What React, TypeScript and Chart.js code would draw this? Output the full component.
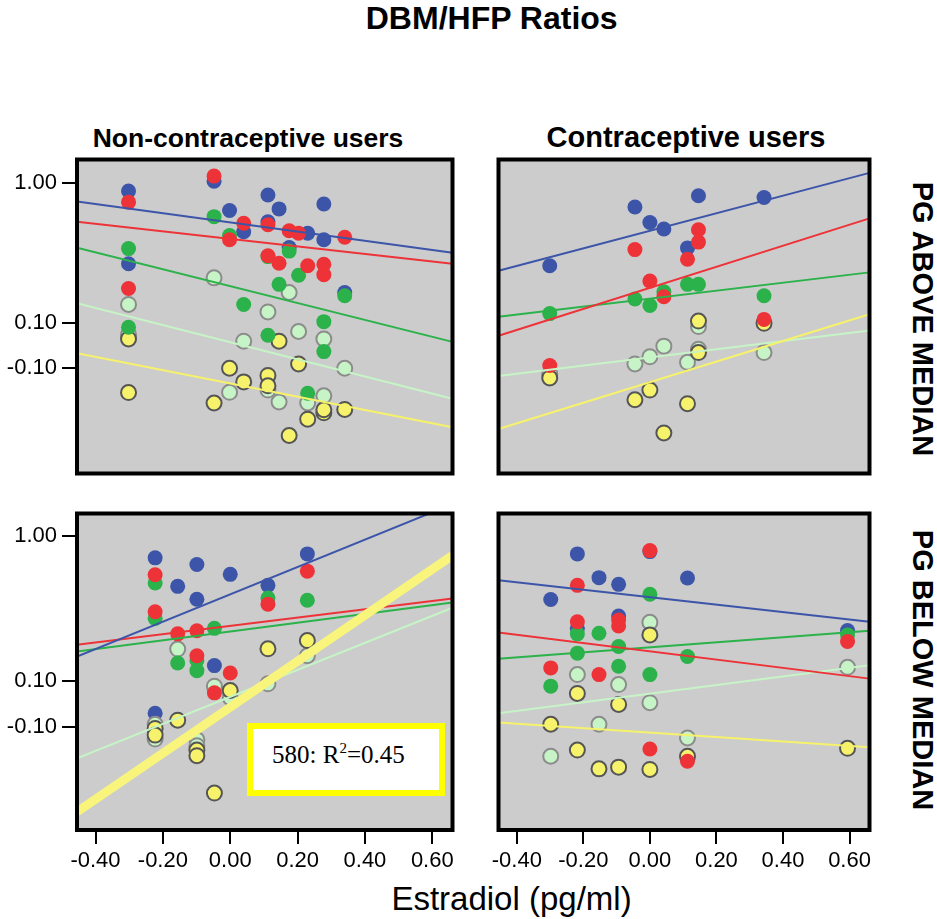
import React, { useEffect, useRef } from "react";
import { Chart, registerables } from "chart.js";
Chart.register(...registerables);

// ---------- axes ----------
const X_MIN = -0.455;
const X_MAX = 0.66;
const xTickValues = [-0.4, -0.2, 0, 0.2, 0.4, 0.6];
const xTickLabels = ["-0.40", "-0.20", "0.00", "0.20", "0.40", "0.60"];
const yTickValues = [-1.32, -1, 0];
const yTickLabels = ["-0.10", "0.10", "1.00"];
const topRowYRange = [-2.067, 0.164];
const bottomRowYRange = [-2.032, 0.153];

type P = [number, number];

// ---------- Non-contraceptive, PG above median ----------
const tlBlue: P[] = [[-0.302, -0.06], [-0.302, -0.577], [-0.048, 0.009], [-0.002, -0.198], [0.04, -0.349], [0.112, -0.088], [0.112, -0.279], [0.145, -0.187], [0.175, -0.462], [0.23, -0.36], [0.278, -0.152], [0.278, -0.406], [0.34, -0.781]];
const tlRed: P[] = [[-0.302, -0.139], [-0.302, -0.753], [-0.048, 0.046], [-0.002, -0.406], [0.04, -0.289], [0.112, -0.3], [0.112, -0.52], [0.145, -0.573], [0.175, -0.342], [0.203, -0.36], [0.23, -0.591], [0.278, -0.58], [0.278, -0.654], [0.34, -0.388]];
const tlGreen: P[] = [[-0.302, -0.469], [-0.302, -1.028], [-0.048, -0.242], [-0.002, -0.376], [0.04, -0.866], [0.112, -0.526], [0.112, -1.085], [0.145, -0.723], [0.175, -0.487], [0.203, -0.658], [0.23, -1.497], [0.278, -0.988], [0.278, -1.201], [0.34, -0.804]];
const tlLight: P[] = [[-0.302, -0.866], [-0.302, -1.08], [-0.048, -0.677], [-0.002, -1.49], [0.04, -1.127], [0.112, -0.919], [0.112, -1.474], [0.145, -1.559], [0.175, -0.781], [0.203, -1.058], [0.23, -1.566], [0.278, -1.111], [0.278, -1.515], [0.34, -1.319]];
const tlYellow: P[] = [[-0.302, -1.111], [-0.302, -1.492], [-0.048, -1.566], [-0.002, -1.319], [0.04, -1.416], [0.112, -1.37], [0.112, -1.444], [0.145, -1.127], [0.175, -1.797], [0.203, -1.289], [0.23, -1.681], [0.278, -1.636], [0.278, -1.614], [0.34, -1.612]];
// fit lines: y at X_MIN and X_MAX
const tlFitBlue = [-0.134, -0.499];
const tlFitRed = [-0.279, -0.577];
const tlFitGreen = [-0.462, -1.132];
const tlFitLight = [-0.857, -1.536];
const tlFitYellow = [-1.212, -1.739];

// ---------- Contraceptive, PG above median ----------
const trBlue: P[] = [[-0.301, -0.591], [-0.045, -0.173], [0.0, -0.284], [0.042, -0.33], [0.113, -0.464], [0.146, -0.094], [0.343, -0.106]];
const trRed: P[] = [[-0.301, -1.3], [-0.045, -0.476], [0.0, -0.7], [0.042, -0.811], [0.113, -0.545], [0.146, -0.335], [0.146, -0.423], [0.343, -0.972]];
const trGreen: P[] = [[-0.301, -0.931], [-0.045, -0.827], [0.0, -0.873], [0.042, -0.776], [0.113, -0.723], [0.146, -0.723], [0.343, -0.804]];
const trLight: P[] = [[-0.301, -1.36], [-0.045, -1.289], [0.0, -1.238], [0.042, -1.162], [0.113, -1.277], [0.146, -1.023], [0.146, -1.185], [0.343, -1.208]];
const trYellow: P[] = [[-0.301, -1.388], [-0.045, -1.543], [0.0, -1.474], [0.042, -1.779], [0.113, -1.571], [0.146, -0.984], [0.146, -1.208], [0.343, -1.0]];
const trFitBlue = [-0.626, 0.069];
const trFitRed = [-1.088, -0.254];
const trFitGreen = [-0.954, -0.638];
const trFitLight = [-1.374, -1.051];
const trFitYellow = [-1.751, -0.935];

// ---------- Non-contraceptive, PG below median ----------
const blBlue: P[] = [[-0.223, -0.153], [-0.223, -1.226], [-0.156, -0.35], [-0.099, -0.199], [-0.099, -0.439], [-0.047, -0.897], [0.0, -0.267], [0.112, -0.343], [0.229, -0.126]];
const blRed: P[] = [[-0.223, -0.27], [-0.223, -0.525], [-0.156, -0.678], [-0.099, -0.656], [-0.099, -0.829], [-0.047, -1.085], [0.0, -0.948], [0.112, -0.473], [0.229, -0.245]];
const blGreen: P[] = [[-0.223, -0.327], [-0.223, -0.571], [-0.156, -0.879], [-0.099, -0.861], [-0.099, -0.932], [-0.047, -0.64], [0.112, -0.43], [0.229, -0.446]];
const blLight: P[] = [[-0.223, -1.302], [-0.223, -1.404], [-0.156, -0.783], [-0.099, -1.409], [-0.099, -1.45], [-0.047, -1.039], [0.0, -1.119], [0.112, -1.023], [0.229, -0.829]];
const blYellow: P[] = [[-0.223, -1.331], [-0.223, -1.377], [-0.156, -1.274], [-0.099, -1.48], [-0.099, -1.519], [-0.047, -1.777], [0.0, -1.069], [0.112, -0.781], [0.229, -0.724]];
const blFitBlue = [-0.834, 0.218];
const blFitRed = [-0.754, -0.434];
const blFitGreen = [-0.799, -0.461];
const blFitLight = [-1.537, -0.498];
const blFitYellow = [-1.907, -0.137];
const blAnnotation = "580: R";
const blAnnotationSup = "2";
const blAnnotationTail = "=0.45";

// ---------- Contraceptive, PG below median ----------
const brBlue: P[] = [[-0.298, -0.441], [-0.218, -0.126], [-0.218, -0.64], [-0.153, -0.29], [-0.094, -0.336], [-0.094, -0.555], [0.0, -0.11], [0.0, -0.68], [0.113, -0.292], [0.594, -0.655]];
const brRed: P[] = [[-0.298, -0.913], [-0.218, -0.343], [-0.218, -0.594], [-0.153, -0.959], [-0.094, -0.582], [-0.094, -0.624], [0.0, -0.103], [0.0, -1.473], [0.113, -1.557], [0.594, -0.731]];
const brGreen: P[] = [[-0.298, -1.039], [-0.218, -0.678], [-0.218, -0.811], [-0.153, -0.674], [-0.094, -0.765], [-0.094, -0.902], [0.0, -0.404], [0.0, -0.959], [0.113, -0.834], [0.594, -0.685]];
const brLight: P[] = [[-0.298, -1.523], [-0.218, -0.959], [-0.153, -1.302], [-0.094, -1.028], [0.0, -0.598], [0.0, -1.153], [0.113, -1.397], [0.594, -0.909]];
const brYellow: P[] = [[-0.298, -1.302], [-0.218, -1.089], [-0.218, -1.48], [-0.153, -1.61], [-0.094, -1.165], [-0.094, -1.598], [0.0, -0.685], [0.0, -1.614], [0.113, -1.523], [0.594, -1.468]];
const brFitBlue = [-0.308, -0.594];
const brFitRed = [-0.669, -0.987];
const brFitGreen = [-0.85, -0.656];
const brFitLight = [-1.226, -0.895];
const brFitYellow = [-1.29, -1.461];

// ---------- text ----------
const chartTitle = "DBM/HFP Ratios";
const colTitles = ["Non-contraceptive users", "Contraceptive users"];
const rowTitles = ["PG ABOVE MEDIAN", "PG BELOW MEDIAN"];
const xAxisTitle = "Estradiol (pg/ml)";

// ---------- styles ----------
const BLUE = "#3c55a9";
const RED = "#ee3338";
const GREEN = "#2bb24a";
const LIGHT = "#c6f4c6";
const YELLOW = "#f7f26b";
const PLOT_BG = "#cccccc";
const SANS = "'Liberation Sans', Arial, Helvetica, sans-serif";
const TICK_SIZE = 22;

type Series = { blue: P[]; red: P[]; green: P[]; light: P[]; yellow: P[] };
type Fits = { blue: number[]; red: number[]; green: number[]; light: number[]; yellow: number[] };

const framePlugin = {
  id: "frame",
  beforeDatasetsDraw(chart: any) {
    const { ctx, chartArea: a } = chart;
    ctx.save();
    ctx.fillStyle = PLOT_BG;
    ctx.fillRect(a.left, a.top, a.right - a.left, a.bottom - a.top);
    ctx.restore();
  },
  afterDatasetsDraw(chart: any) {
    const { ctx, chartArea: a } = chart;
    ctx.save();
    ctx.strokeStyle = "#000";
    ctx.lineWidth = 4;
    ctx.strokeRect(a.left, a.top, a.right - a.left, a.bottom - a.top);
    ctx.restore();
  },
};

function pts(arr: P[]) {
  return arr.map(([x, y]) => ({ x, y }));
}
function fitLine(f: number[]) {
  return [
    { x: X_MIN, y: f[0] },
    { x: X_MAX, y: f[1] },
  ];
}

function Panel(props: {
  left: number; top: number; width: number; height: number;
  pad: { top: number; right: number; bottom: number; left: number };
  yRange: number[]; showX: boolean; showY: boolean;
  series: Series; fits: Fits; thickYellow?: boolean;
}) {
  const ref = useRef<HTMLCanvasElement>(null);
  useEffect(() => {
    const { series, fits } = props;
    const lineDs = (f: number[], color: string, w: number) => ({
      type: "line" as const,
      data: fitLine(f),
      borderColor: color,
      borderWidth: w,
      pointRadius: 0,
      showLine: true,
      fill: false,
      clip: 0,
    });
    const ptDs = (d: P[], fill: string, border: string, bw: number) => ({
      data: pts(d),
      backgroundColor: fill,
      borderColor: border,
      pointBackgroundColor: fill,
      pointBorderColor: border,
      pointBorderWidth: bw,
      pointRadius: 7.5,
      showLine: false,
    });
    const datasets: any[] = [
      lineDs(fits.yellow, props.thickYellow ? "#f8f47c" : YELLOW, props.thickYellow ? 9 : 2),
      lineDs(fits.blue, BLUE, 2),
      lineDs(fits.red, RED, 2),
      lineDs(fits.green, GREEN, 2),
      lineDs(fits.light, LIGHT, 2),
      ptDs(series.red, RED, RED, 0),
      ptDs(series.green, GREEN, GREEN, 0),
      ptDs(series.yellow, YELLOW, "#555555", 2),
      ptDs(series.light, LIGHT, "#8c8c8c", 2),
      ptDs(series.blue, BLUE, BLUE, 0),
    ];
    const showX = props.showX;
    const showY = props.showY;
    const chart = new Chart(ref.current as HTMLCanvasElement, {
      type: "scatter",
      data: { datasets },
      options: {
        animation: false,
        responsive: false,
        maintainAspectRatio: false,
        layout: { padding: props.pad },
        plugins: { legend: { display: false }, tooltip: { enabled: false } },
        scales: {
          x: {
            type: "linear",
            min: X_MIN,
            max: X_MAX,
            display: showX,
            afterBuildTicks: (s: any) => {
              s.ticks = xTickValues.map((v) => ({ value: v }));
            },
            afterFit: (s: any) => {
              s.height = showX ? 45 : 0;
              s.paddingLeft = 0;
              s.paddingRight = 0;
              s.paddingTop = 0;
              s.paddingBottom = 0;
            },
            ticks: {
              autoSkip: false,
              maxRotation: 0,
              padding: 4,
              color: "#000",
              font: { family: SANS, size: TICK_SIZE },
              callback: (v: any) => {
                const i = xTickValues.findIndex((t) => Math.abs(t - Number(v)) < 1e-6);
                return i >= 0 ? xTickLabels[i] : "";
              },
            },
            grid: { display: true, drawOnChartArea: false, drawTicks: true, tickLength: 14, color: "#000", lineWidth: 2 },
            border: { display: false },
          },
          y: {
            type: "linear",
            min: props.yRange[0],
            max: props.yRange[1],
            display: showY,
            afterBuildTicks: (s: any) => {
              s.ticks = yTickValues.map((v) => ({ value: v }));
            },
            afterFit: (s: any) => {
              s.width = showY ? 77 : 0;
              s.paddingLeft = 0;
              s.paddingRight = 0;
              s.paddingTop = 0;
              s.paddingBottom = 0;
            },
            ticks: {
              autoSkip: false,
              padding: 5,
              color: "#000",
              font: { family: SANS, size: TICK_SIZE },
              callback: (v: any) => {
                const i = yTickValues.findIndex((t) => Math.abs(t - Number(v)) < 1e-6);
                return i >= 0 ? yTickLabels[i] : "";
              },
            },
            grid: { display: true, drawOnChartArea: false, drawTicks: true, tickLength: 15, color: "#000", lineWidth: 2 },
            border: { display: false },
          },
        },
      } as any,
      plugins: [framePlugin],
    });
    return () => chart.destroy();
  }, []);
  return (
    <canvas
      ref={ref}
      width={props.width}
      height={props.height}
      style={{ position: "absolute", left: props.left, top: props.top, width: props.width, height: props.height }}
    />
  );
}

function Label(props: { text: React.ReactNode; cx: number; baseline: number; size: number; bold?: boolean }) {
  const top = props.baseline - 0.8465 * props.size;
  return (
    <div
      style={{
        position: "absolute",
        left: props.cx,
        top,
        transform: "translateX(-50%)",
        whiteSpace: "nowrap",
        fontFamily: SANS,
        fontSize: props.size,
        lineHeight: `${props.size}px`,
        fontWeight: props.bold ? "bold" : "normal",
        color: "#000",
      }}
    >
      {props.text}
    </div>
  );
}

function RowLabel(props: { text: string; cx: number; cy: number }) {
  return (
    <div
      style={{
        position: "absolute",
        left: props.cx,
        top: props.cy,
        transform: "translate(-50%, -50%) rotate(90deg)",
        whiteSpace: "nowrap",
        fontFamily: SANS,
        fontSize: 29,
        lineHeight: "29px",
        fontWeight: "bold",
        color: "#000",
      }}
    >
      {props.text}
    </div>
  );
}

export default function App() {
  return (
    <div style={{ position: "absolute", left: 0, top: 0, width: 937, height: 919, background: "#fff", overflow: "hidden" }}>
      <Label text={chartTitle} cx={491.7} baseline={29.3} size={32} bold />
      <Label text={colTitles[0]} cx={248} baseline={147.3} size={26.5} bold />
      <Label text={colTitles[1]} cx={686} baseline={147.3} size={29} bold />
      <RowLabel text={rowTitles[0]} cx={921.5} cy={318.5} />
      <RowLabel text={rowTitles[1]} cx={921.5} cy={670} />

      <Panel
        left={0} top={150} width={462} height={333}
        pad={{ top: 7, right: 4, bottom: 4, left: 0 }}
        yRange={topRowYRange} showX={false} showY={true}
        series={{ blue: tlBlue, red: tlRed, green: tlGreen, light: tlLight, yellow: tlYellow }}
        fits={{ blue: tlFitBlue, red: tlFitRed, green: tlFitGreen, light: tlFitLight, yellow: tlFitYellow }}
      />
      <Panel
        left={489} top={150} width={390} height={333}
        pad={{ top: 7, right: 4, bottom: 4, left: 5 }}
        yRange={topRowYRange} showX={false} showY={false}
        series={{ blue: trBlue, red: trRed, green: trGreen, light: trLight, yellow: trYellow }}
        fits={{ blue: trFitBlue, red: trFitRed, green: trFitGreen, light: trFitLight, yellow: trFitYellow }}
      />
      <Panel
        left={0} top={504} width={462} height={371}
        pad={{ top: 7, right: 4, bottom: 0, left: 0 }}
        yRange={bottomRowYRange} showX={true} showY={true}
        series={{ blue: blBlue, red: blRed, green: blGreen, light: blLight, yellow: blYellow }}
        fits={{ blue: blFitBlue, red: blFitRed, green: blFitGreen, light: blFitLight, yellow: blFitYellow }}
        thickYellow
      />
      <Panel
        left={489} top={504} width={390} height={371}
        pad={{ top: 7, right: 4, bottom: 0, left: 5 }}
        yRange={bottomRowYRange} showX={true} showY={false}
        series={{ blue: brBlue, red: brRed, green: brGreen, light: brLight, yellow: brYellow }}
        fits={{ blue: brFitBlue, red: brFitRed, green: brFitGreen, light: brFitLight, yellow: brFitYellow }}
      />

      <div
        style={{
          position: "absolute",
          left: 247,
          top: 723,
          width: 198,
          height: 73,
          boxSizing: "border-box",
          border: "6px solid #ffff00",
          background: "#fff",
        }}
      />
      <div
        style={{
          position: "absolute",
          left: 272,
          top: 742,
          whiteSpace: "nowrap",
          fontFamily: "'Liberation Serif', 'Times New Roman', serif",
          fontSize: 25,
          lineHeight: "25px",
          color: "#000",
        }}
      >
        {blAnnotation}
        <span style={{ fontSize: 15, position: "relative", top: -10 }}>{blAnnotationSup}</span>
        {blAnnotationTail}
      </div>

      <Label text={xAxisTitle} cx={511.5} baseline={910} size={33} />
    </div>
  );
}
